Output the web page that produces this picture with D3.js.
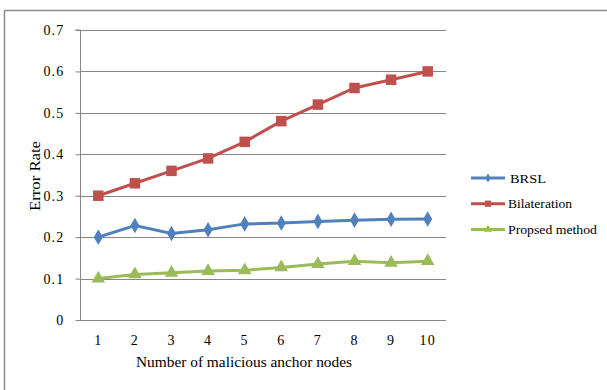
<!DOCTYPE html>
<html>
<head>
<meta charset="utf-8">
<script src="https://cdn.jsdelivr.net/npm/d3@7"></script>
<style>
  body { margin: 0; background: #fff; }
</style>
</head>
<body>
<script>
// values
const nodes = [1, 2, 3, 4, 5, 6, 7, 8, 9, 10];
const brsl = [0.2, 0.228, 0.209, 0.218, 0.232, 0.234, 0.238, 0.241, 0.243, 0.244];
const bilateration = [0.3, 0.33, 0.36, 0.39, 0.43, 0.48, 0.52, 0.56, 0.58, 0.6];
const proposed = [0.1, 0.11, 0.114, 0.118, 0.12, 0.127, 0.135, 0.142, 0.138, 0.142];
const yTicks = [0, 0.1, 0.2, 0.3, 0.4, 0.5, 0.6, 0.7];

const series = [
  { name: "BRSL", values: brsl, color: "#4F81BD", symbol: d3.symbolDiamond, size: 70, len: 36 },
  { name: "Bilateration", values: bilateration, color: "#C0504D", symbol: d3.symbolSquare, size: 110, len: 64 },
  { name: "Propsed method", values: proposed, color: "#9BBB59", symbol: d3.symbolTriangle, size: 80, len: 89 }
];

const serif = "'Liberation Serif', 'Times New Roman', serif";
const width = 607, height = 390;
const svg = d3.select("body").append("svg")
  .attr("width", width).attr("height", height)
  .style("font-family", serif);

// outer frame
svg.append("rect")
  .attr("x", 4.5).attr("y", 10.5)
  .attr("width", 620).attr("height", 400)
  .attr("fill", "none").attr("stroke", "#8c8c8c").attr("stroke-width", 1.5);

const plot = { left: 80, right: 446, top: 30, bottom: 320 };

const x = d3.scaleBand().domain(nodes).range([plot.left, plot.right]);
const y = d3.scaleLinear().domain([0, 0.7]).range([plot.bottom, plot.top]);
const cx = d => x(d) + x.bandwidth() / 2;

// grid lines
svg.append("g").selectAll("line")
  .data(yTicks.filter(t => t > 0))
  .join("line")
    .attr("x1", plot.left).attr("x2", plot.right)
    .attr("y1", d => Math.round(y(d)) + 0.5).attr("y2", d => Math.round(y(d)) + 0.5)
    .attr("stroke", "#868686");

// y axis
const yAxis = svg.append("g")
  .attr("transform", `translate(${plot.left + 0.5},0)`)
  .call(d3.axisLeft(y).tickValues(yTicks).tickSize(5).tickPadding(11)
    .tickFormat(d => d === 0 ? "0" : d3.format(".1f")(d)));
yAxis.attr("font-family", null);
yAxis.select(".domain").attr("stroke", "#868686").attr("d", `M-5,${plot.top}H0V${plot.bottom}`);
yAxis.selectAll(".tick line").attr("stroke", "#868686");
yAxis.selectAll(".tick text")
  .style("font-family", serif).style("font-size", "14px").style("letter-spacing", "1.2px")
  .attr("fill", "#000");

// x axis
const xAxis = svg.append("g")
  .attr("transform", `translate(0,${plot.bottom + 0.5})`)
  .call(d3.axisBottom(x).tickSize(0).tickPadding(15));
xAxis.attr("font-family", null);
xAxis.select(".domain").attr("stroke", "#868686").attr("d", `M${plot.left},0H${plot.right}`);
xAxis.selectAll(".tick text")
  .style("font-family", serif).style("font-size", "14px").style("letter-spacing", "1.2px")
  .attr("fill", "#000");

// axis titles
svg.append("text")
  .attr("x", 244).attr("y", 367)
  .attr("text-anchor", "middle")
  .style("font-size", "14px")
  .attr("textLength", 216).attr("lengthAdjust", "spacingAndGlyphs")
  .text("Number of malicious anchor nodes");

svg.append("text")
  .attr("transform", `translate(40,${(plot.top + plot.bottom) / 2 + 1}) rotate(-90)`)
  .attr("text-anchor", "middle")
  .style("font-size", "14px")
  .attr("textLength", 70).attr("lengthAdjust", "spacingAndGlyphs")
  .text("Error Rate");

// lines and markers
const line = d3.line().x((d, i) => cx(nodes[i])).y(d => y(d));

series.forEach(s => {
  svg.append("path")
    .attr("d", line(s.values))
    .attr("fill", "none").attr("stroke", s.color).attr("stroke-width", 3);
  svg.append("g").selectAll("path")
    .data(s.values)
    .join("path")
      .attr("transform", (d, i) => `translate(${cx(nodes[i])},${y(d)})`)
      .attr("d", d3.symbol(s.symbol, s.size))
      .attr("fill", s.color);
});

// legend
const legend = svg.append("g").selectAll("g")
  .data(series)
  .join("g")
    .attr("transform", (d, i) => `translate(471,${178 + i * 25.7})`);
legend.append("line")
  .attr("x1", 0).attr("x2", 34)
  .attr("stroke", d => d.color).attr("stroke-width", 3);
legend.append("path")
  .attr("transform", "translate(17,0)")
  .attr("d", d => d3.symbol(d.symbol, d.size * 0.35)())
  .attr("fill", d => d.color);
legend.append("text")
  .attr("x", d => d.name === "BRSL" ? 39 : 37).attr("dy", "0.35em")
  .style("font-size", "13px")
  .attr("textLength", d => d.len).attr("lengthAdjust", "spacingAndGlyphs")
  .text(d => d.name);
</script>
</body>
</html>
